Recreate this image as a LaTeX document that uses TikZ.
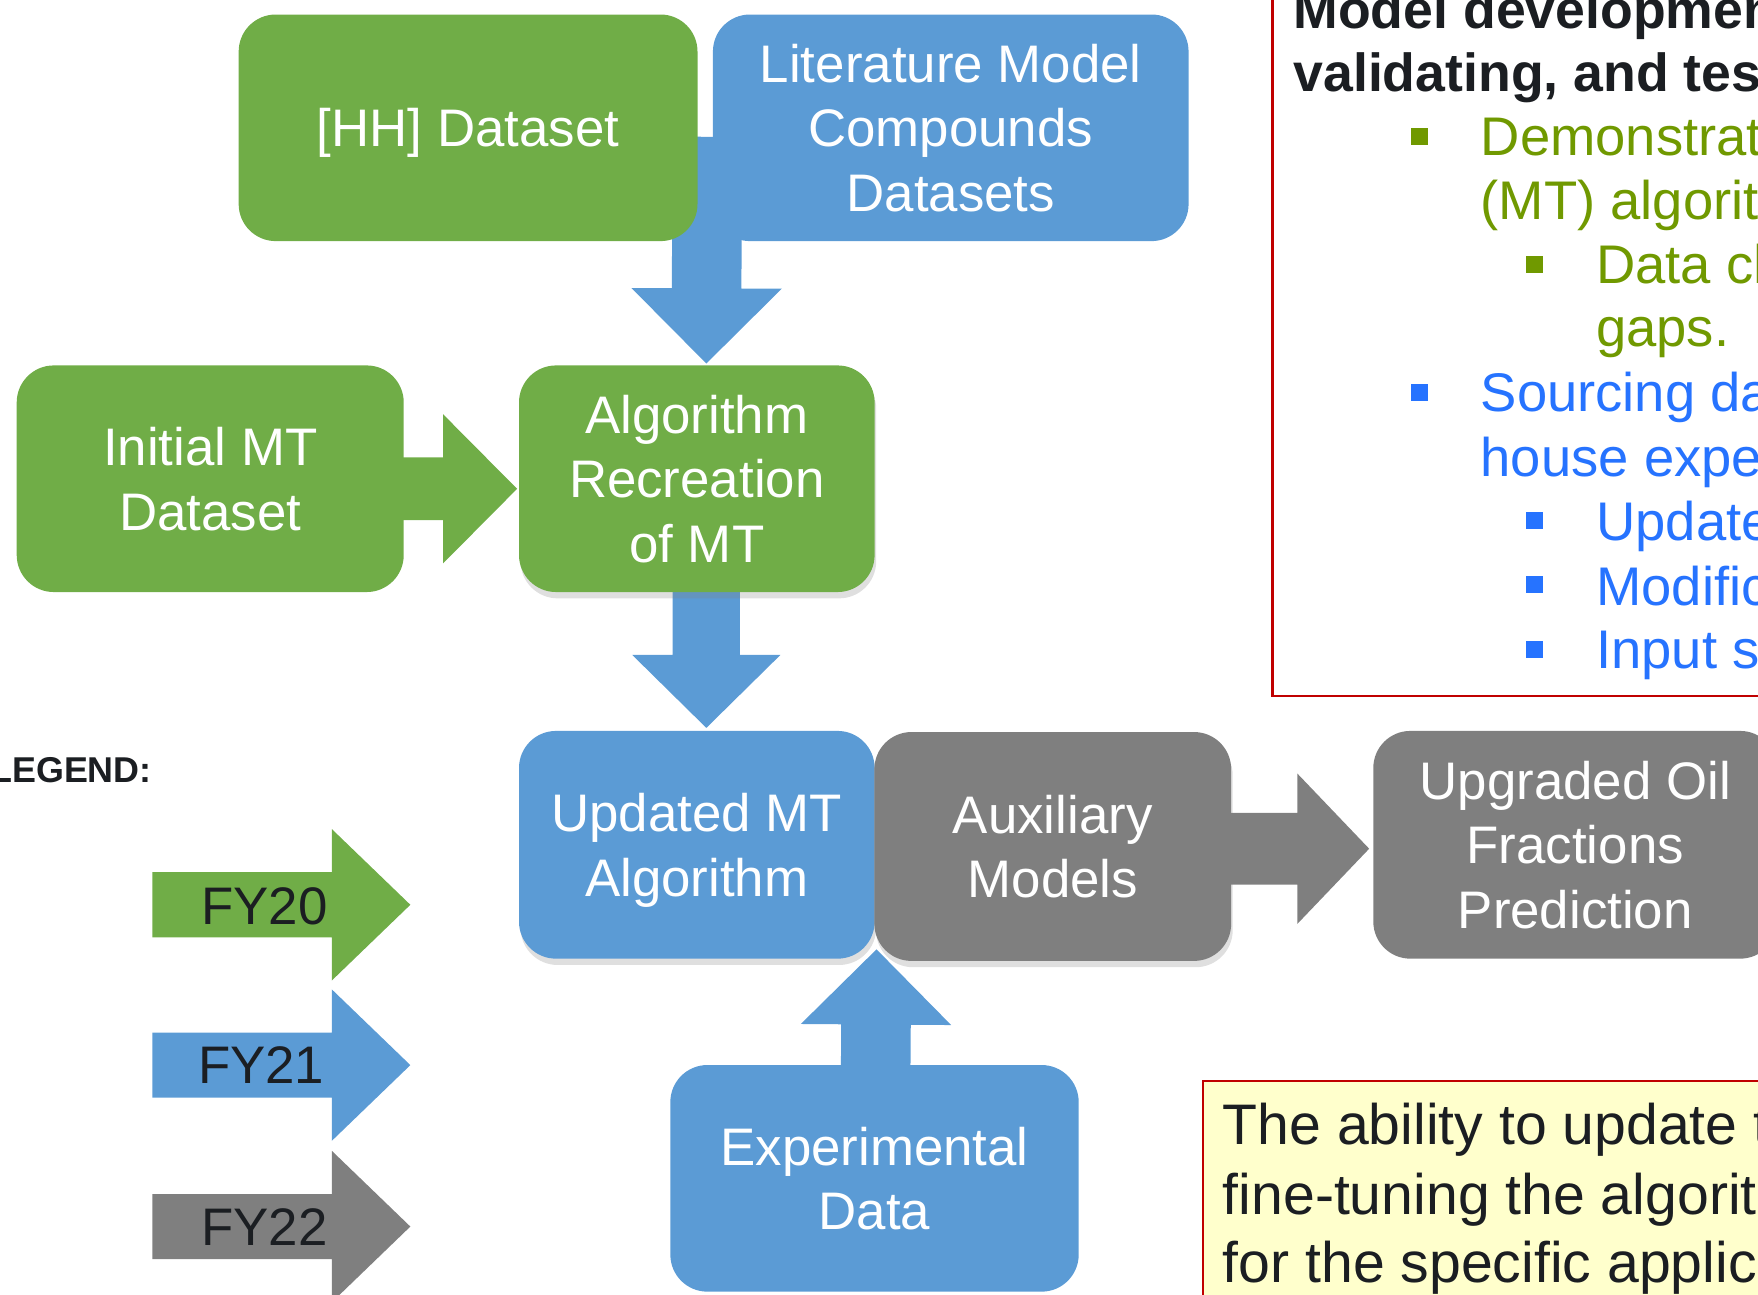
\documentclass[tikz,border=0pt]{standalone}
\usepackage{fontspec}
\setmainfont{Liberation Sans}
\usetikzlibrary{calc,shadows}

\definecolor{boxgreen}{HTML}{70AD47}
\definecolor{boxblue}{HTML}{5B9BD5}
\definecolor{boxgray}{HTML}{7F7F7F}
\definecolor{txtgreen}{RGB}{112,153,0}
\definecolor{txtblue}{RGB}{38,115,255}
\definecolor{txtdark}{HTML}{1B1E22}
\definecolor{framered}{HTML}{C00000}
\definecolor{noteyellow}{HTML}{FFFFCC}

\pgfdeclarelayer{back}
\pgfsetlayers{back,main}

\newcommand{\boxfont}{\fontsize{13.4}{16.4}\selectfont}
\newcommand{\listfont}{\fontsize{13.8}{16.2}\selectfont}
\newcommand{\notefont}{\fontsize{14.5}{17.5}\selectfont}

% block arrow: #1 colour, #2 start, #3 tip, #4 half stem width, #5 half head width, #6 head length
\newcommand{\blockarrow}[6]{%
  \coordinate (ba-h) at ($(#3)!#6!(#2)$);
  \fill[#1] ($(#2)!#4!90:(#3)$) -- ($(ba-h)!#4!90:(#3)$) -- ($(ba-h)!#5!90:(#3)$) -- (#3)
    -- ($(ba-h)!#5!-90:(#3)$) -- ($(ba-h)!#4!-90:(#3)$) -- ($(#2)!#4!-90:(#3)$) -- cycle;
}

\begin{document}
\begin{tikzpicture}[x=0.01cm,y=-0.01cm,
  box/.style={rectangle, rounded corners=0.33cm, inner sep=0pt, align=center,
              text=white, font=\boxfont, text depth=-0.09cm},
  greenbox/.style={box, fill=boxgreen},
  bluebox/.style={box, fill=boxblue},
  graybox/.style={box, fill=boxgray},
  boxshadow/.style={drop shadow={opacity=0.25, shadow xshift=0.4pt, shadow yshift=-1.6pt}},
  legtext/.style={font=\boxfont, text=txtdark, inner sep=0pt},
  textline/.style={anchor=base west, inner sep=0pt, font=\listfont},
  bullet/.style={minimum size=0.15cm, inner sep=0pt}
]
\useasboundingbox (0,0) rectangle (1568,1155);
\clip (0,0) rectangle (1568,1155);

% ---------- flow boxes ----------
\node[greenbox, minimum width=4.09cm, minimum height=2.02cm] (hh) at (417.5,114) {[HH] Dataset};
\node[bluebox, minimum width=4.24cm, minimum height=2.02cm] (lit) at (848,114)
  {Literature Model\\Compounds\\Datasets};
\node[greenbox, minimum width=3.45cm, minimum height=2.02cm] (init) at (187.5,427) {Initial MT\\Dataset};
\node[greenbox, boxshadow, minimum width=3.17cm, minimum height=2.02cm] (alg) at (621.5,427)
  {Algorithm\\Recreation\\of MT};
\node[bluebox, boxshadow, minimum width=3.17cm, minimum height=2.03cm] (upd) at (621.5,753.5)
  {Updated MT\\Algorithm};
\node[graybox, boxshadow, minimum width=3.18cm, minimum height=2.04cm] (aux) at (939,755)
  {Auxiliary\\Models};
\node[graybox, minimum width=3.60cm, minimum height=2.03cm] (upg) at (1405,753.5)
  {Upgraded Oil\\Fractions\\Prediction};
\node[bluebox, minimum width=3.64cm, minimum height=2.02cm] (exp) at (780,1051)
  {Experimental\\Data};

% ---------- block arrows between the boxes ----------
\coordinate (a1s) at ($(hh.east)+(8,8)$);
\coordinate (a1t) at ($(alg.north)+(8.5,-1)$);
\coordinate (a2s) at ($(init.east)+(-20,9)$);
\coordinate (a2t) at ($(alg.west)+(-1,9)$);
\coordinate (a3s) at ($(alg.south)+(8.5,-8)$);
\coordinate (a3t) at ($(upd.north)+(8.5,-2)$);
\coordinate (a4s) at ($(aux.east)+(-8,2)$);
\coordinate (a4t) at ($(upg.west)+(-3,3.5)$);
\coordinate (a5s) at ($(exp.north)+(1,10)$);
\coordinate (a5t) at ($(upd.south east)+(1,-9)$);
\begin{pgfonlayer}{back}
  \blockarrow{boxblue}{a1s}{a1t}{0.31cm}{0.67cm}{0.67cm}
  \blockarrow{boxgreen}{a2s}{a2t}{0.28cm}{0.665cm}{0.66cm}
  \blockarrow{boxblue}{a3s}{a3t}{0.30cm}{0.66cm}{0.65cm}
  \blockarrow{boxgray}{a4s}{a4t}{0.32cm}{0.67cm}{0.64cm}
  \blockarrow{boxblue}{a5s}{a5t}{0.31cm}{0.67cm}{0.67cm}
\end{pgfonlayer}

% ---------- legend ----------
\node[anchor=base east, inner sep=0pt, text=txtdark, font=\fontsize{9.1}{10}\selectfont\bfseries]
  (legtitle) at (136,698) {LEGEND:};
\coordinate (l1s) at (136,807);  \coordinate (l1t) at (366,807);
\coordinate (l2s) at (136,950);  \coordinate (l2t) at (366,950);
\coordinate (l3s) at (136,1094); \coordinate (l3t) at (366,1094);
\blockarrow{boxgreen}{l1s}{l1t}{0.29cm}{0.675cm}{0.70cm}
\blockarrow{boxblue}{l2s}{l2t}{0.29cm}{0.675cm}{0.70cm}
\blockarrow{boxgray}{l3s}{l3t}{0.29cm}{0.675cm}{0.70cm}
\node[legtext] (fy20) at (236,808) {FY20};
\node[legtext] (fy21) at (233,950) {FY21};
\node[legtext] (fy22) at (236,1094) {FY22};

% ---------- goals panel ----------
\draw[framered, line width=0.6pt, fill=white] (1135,-20) rectangle (1600,621);
\node[textline, text=txtdark, font=\fontsize{13.6}{15.9}\selectfont\bfseries] (g1) at (1153,25) {Model development,};
\node[textline, text=txtdark, font=\fontsize{13.6}{15.9}\selectfont\bfseries] (g2) at (1153,82) {validating, and testing};

\node[bullet, fill=txtgreen] (b1) at (1266,122) {};
\node[textline, text=txtgreen] (t1a) at (1320,139) {Demonstrating};
\node[textline, text=txtgreen] (t1b) at (1320,196) {(MT) algorithm};
\node[bullet, fill=txtgreen] (b2) at (1369,236) {};
\node[textline, text=txtgreen] (t2a) at (1423,253) {Data challenges};
\node[textline, text=txtgreen] (t2b) at (1423,309) {gaps.};

\node[bullet, fill=txtblue] (b3) at (1266,350) {};
\node[textline, text=txtblue] (t3a) at (1320,367) {Sourcing data};
\node[textline, text=txtblue] (t3b) at (1320,425) {house experiments};
\node[bullet, fill=txtblue] (b4) at (1369,464) {};
\node[textline, text=txtblue] (t4) at (1423,482) {Updated};
\node[bullet, fill=txtblue] (b5) at (1369,521) {};
\node[textline, text=txtblue] (t5) at (1423,540) {Modifications};
\node[bullet, fill=txtblue] (b6) at (1369,579) {};
\node[textline, text=txtblue] (t6) at (1423,596) {Input system};

% ---------- note box ----------
\draw[framered, line width=0.6pt, fill=noteyellow] (1073,964) rectangle (1600,1200);
\node[textline, text=txtdark, font=\notefont] (n1) at (1090,1021) {The ability to update the};
\node[textline, text=txtdark, font=\notefont] (n2) at (1090,1083) {fine-tuning the algorithm};
\node[textline, text=txtdark, font=\notefont] (n3) at (1090,1144) {for the specific application};
\end{tikzpicture}
\end{document}
